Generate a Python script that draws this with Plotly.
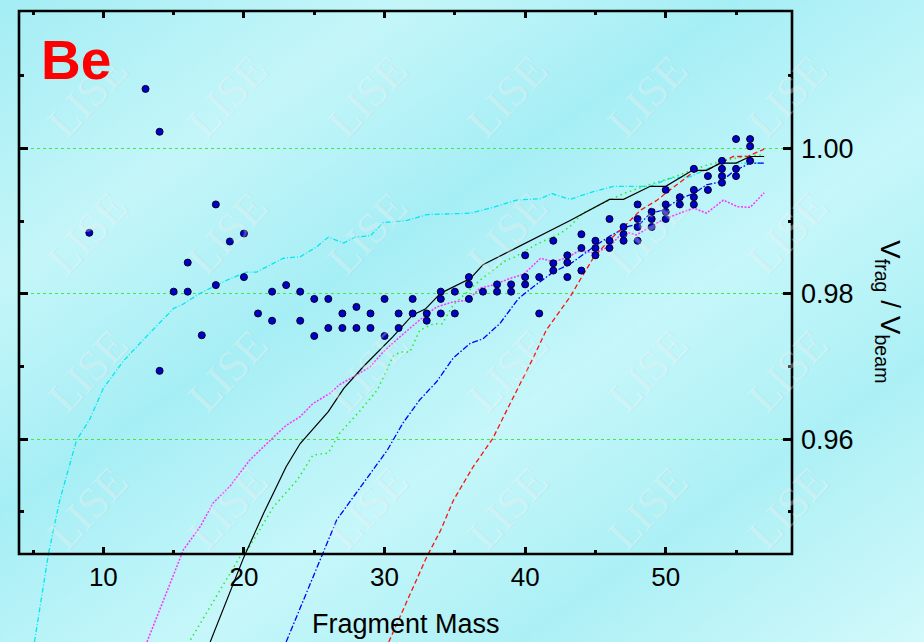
import base64
import plotly.graph_objects as go

# ---------------- data ----------------
exp_mass = [9, 13, 14, 14, 15, 16, 16, 17, 18, 18, 19, 20, 20, 21, 22, 22, 23, 24, 24,
            25, 25, 26, 26, 27, 27, 28, 28, 29, 29, 30, 30, 31, 31, 32, 32, 33, 33,
            34, 34, 34, 35, 35, 36, 36, 36, 37, 38, 38, 39, 39, 40, 40, 40, 41, 41,
            42, 42, 42, 43, 43, 43, 44, 44, 44, 45, 45, 45, 46, 46, 46, 47, 47, 47,
            48, 48, 48, 48, 49, 49, 49, 50, 50, 50, 50, 51, 51, 52, 52, 52, 52,
            53, 53, 54, 54, 54, 54, 55, 55, 55, 56, 56, 56]
exp_ratio = [0.9884, 1.0082, 1.0023, 0.9694, 0.9803, 0.9843, 0.9803, 0.9743, 0.9923, 0.9812,
             0.9872, 0.9883, 0.9823, 0.9773, 0.9803, 0.9763, 0.9812, 0.9803, 0.9763,
             0.9793, 0.9742, 0.9793, 0.9753, 0.9773, 0.9753, 0.9782, 0.9753, 0.9773, 0.9753,
             0.9793, 0.9742, 0.9773, 0.9753, 0.9793, 0.9773, 0.9773, 0.9763,
             0.9803, 0.9793, 0.9773, 0.9803, 0.9773, 0.9823, 0.9813, 0.9793, 0.9803,
             0.9813, 0.9803, 0.9813, 0.9803, 0.9853, 0.9823, 0.9813, 0.9823, 0.9773,
             0.9873, 0.9842, 0.9832, 0.9853, 0.9843, 0.9823, 0.9882, 0.9863, 0.9832,
             0.9873, 0.9863, 0.9853, 0.9903, 0.9873, 0.9863, 0.9892, 0.9882, 0.9873,
             0.9923, 0.9903, 0.9892, 0.9873, 0.9913, 0.9903, 0.9892,
             0.9943, 0.9923, 0.9913, 0.9903, 0.9933, 0.9923, 0.9972, 0.9943, 0.9933, 0.9923,
             0.9962, 0.9943, 0.9983, 0.9972, 0.9962, 0.9953, 1.0013, 0.9972, 0.9962,
             1.0013, 1.0003, 0.9983]

black_m = [17.6, 20.0, 21.4, 23.0, 24.0, 25.1, 26.0, 27.1, 28.5, 30.6, 32.0, 32.9, 34.0,
           36.1, 37.0, 43.2, 46.0, 47.0, 48.9, 50.0, 51.9, 52.9, 53.9, 55.0, 56.0, 57.0]
black_v = [0.9321, 0.9438, 0.9498, 0.9562, 0.9594, 0.9619, 0.9638, 0.9670, 0.9700, 0.9741,
           0.9771, 0.9779, 0.9801, 0.9821, 0.9840, 0.9901, 0.9930, 0.9930, 0.9948, 0.9948,
           0.9970, 0.9970, 0.9980, 0.9980, 0.9989, 0.9989]

cyan_m = [5.1, 6.1, 6.9, 8.1, 9.0, 10.0, 11.4, 12.8, 15.0, 15.6, 16.9, 18.8, 20.2, 20.9,
          22.8, 24.0, 25.2, 26.0, 27.1, 27.9, 29.0, 29.9, 31.6, 33.0, 36.1, 37.7, 39.4,
          41.1, 41.9, 43.2, 44.9, 46.3, 48.9, 50.3, 51.7, 53.9, 55.8, 57.0]
cyan_v = [0.9321, 0.9443, 0.9516, 0.9599, 0.9626, 0.9670, 0.9707, 0.9736, 0.9780, 0.9785,
          0.9801, 0.9819, 0.9830, 0.9830, 0.9849, 0.9851, 0.9865, 0.9878, 0.9870, 0.9878,
          0.9880, 0.9898, 0.9901, 0.9909, 0.9911, 0.9919, 0.9929, 0.9931, 0.9938, 0.9930,
          0.9941, 0.9948, 0.9948, 0.9959, 0.9961, 0.9980, 0.9980, 0.9980]

magenta_m = [13.1, 15.7, 16.9, 17.8, 19.0, 20.4, 21.9, 23.0, 24.0, 24.9, 26.1, 26.8, 27.8,
             29.0, 29.9, 31.1, 32.5, 33.7, 34.9, 35.9, 36.8, 37.7, 38.9, 39.9, 41.1, 42.0,
             43.0, 43.9, 44.9, 46.0, 47.0, 47.9, 48.9, 49.8, 51.0, 52.0, 52.9, 54.1, 55.1,
             56.0, 57.0]
magenta_v = [0.9321, 0.9448, 0.9480, 0.9512, 0.9535, 0.9571, 0.9599, 0.9619, 0.9631, 0.9649,
             0.9663, 0.9675, 0.9686, 0.9700, 0.9720, 0.9741, 0.9764, 0.9782, 0.9789, 0.9791,
             0.9808, 0.9812, 0.9821, 0.9827, 0.9849, 0.9844, 0.9850, 0.9860, 0.9856, 0.9865,
             0.9886, 0.9881, 0.9892, 0.9902, 0.9911, 0.9918, 0.9911, 0.9929, 0.9920, 0.9919,
             0.9939]

green_m = [16.2, 19.8, 20.4, 22.1, 23.8, 24.9, 26.0, 26.8, 28.3, 29.5, 30.6, 31.1, 31.8,
           32.5, 33.5, 34.1, 34.9, 36.8, 38.7, 39.2, 40.8, 42.5, 43.2, 44.1, 46.0, 47.0,
           49.1, 50.3, 52.9, 53.9, 55.8, 57.0]
green_v = [0.9324, 0.9441, 0.9452, 0.9507, 0.9544, 0.9578, 0.9581, 0.9608, 0.9640, 0.9668,
           0.9714, 0.9720, 0.9720, 0.9750, 0.9759, 0.9759, 0.9785, 0.9819, 0.9847, 0.9850,
           0.9868, 0.9883, 0.9893, 0.9911, 0.9929, 0.9938, 0.9952, 0.9959, 0.9977, 0.9982,
           0.9990, 0.9991]

blue_m = [23.0, 25.6, 26.6, 27.8, 29.0, 30.2, 31.3, 32.5, 33.7, 34.9, 36.1, 37.0, 38.2,
          39.5, 40.6, 42.0, 43.2, 44.9, 46.0, 47.2, 48.2, 48.9, 49.8, 51.0, 52.0, 52.9,
          53.9, 54.8, 56.0, 57.0]
blue_v = [0.9321, 0.9441, 0.9489, 0.9521, 0.9553, 0.9585, 0.9622, 0.9654, 0.9679, 0.9712,
          0.9732, 0.9738, 0.9759, 0.9793, 0.9810, 0.9830, 0.9841, 0.9865, 0.9879, 0.9892,
          0.9897, 0.9911, 0.9915, 0.9931, 0.9938, 0.9950, 0.9954, 0.9968, 0.9980, 0.9980]

red_m = [30.3, 33.0, 34.0, 34.9, 36.3, 37.7, 38.7, 39.8, 40.6, 41.5, 43.2, 43.9, 44.9,
         46.0, 47.0, 48.2, 49.4, 50.3, 52.0, 52.9, 54.8, 55.8, 57.0]
red_v = [0.9321, 0.9438, 0.9475, 0.9516, 0.9562, 0.9601, 0.9640, 0.9681, 0.9713, 0.9750,
         0.9796, 0.9819, 0.9851, 0.9874, 0.9892, 0.9915, 0.9929, 0.9943, 0.9968, 0.9970,
         0.9989, 0.9989, 0.9999]

x_major = [10, 20, 30, 40, 50]
x_minor = [5, 15, 25, 35, 45, 55]
y_major = [0.96, 0.98, 1.00]
y_major_text = ["0.96", "0.98", "1.00"]
y_minor = [0.95, 0.97, 0.99, 1.01]

# ---------------- geometry ----------------
W, H = 924, 642
FL, FR, FT, FB = 19, 792, 11, 554          # frame in pixels
xdom = [FL / W, FR / W]
ytop = 1 - FT / H
yframe_bot = 1 - FB / H
X_RANGE = [4.0, 58.98]
Y_RANGE = [0.93209, 1.01892]

FONT = "Arial, 'Liberation Sans', sans-serif"

# background gradient as an svg image
svg = f"""<svg xmlns='http://www.w3.org/2000/svg' width='{W}' height='{H}'>
<defs><linearGradient id='g' x1='0' y1='0' x2='1' y2='1'>
<stop offset='0' stop-color='#a4edf4'/>
<stop offset='0.22' stop-color='#c4f6f9'/>
<stop offset='0.40' stop-color='#a6eef5'/>
<stop offset='0.60' stop-color='#c6f7fa'/>
<stop offset='0.78' stop-color='#acf0f5'/>
<stop offset='1' stop-color='#d2f9fb'/>
</linearGradient></defs>
<rect width='100%' height='100%' fill='url(#g)'/></svg>"""
bg_src = "data:image/svg+xml;base64," + base64.b64encode(svg.encode()).decode()

fig = go.Figure()

line_specs = [
    (cyan_m, cyan_v, "#00e8f0", "5px,2px,1px,2px", 1.3),
    (magenta_m, magenta_v, "#ff33ff", "2px,1.5px", 1.5),
    (green_m, green_v, "#22ee22", "1.5px,3.5px", 1.5),
    (blue_m, blue_v, "#0000ff", "6px,2px,1.5px,2px", 1.3),
    (red_m, red_v, "#ff1010", "5px,3px", 1.3),
    (black_m, black_v, "#000000", "solid", 1.2),
]
for xs, ys, col, dash, w in line_specs:
    fig.add_trace(go.Scatter(x=xs, y=ys, mode="lines",
                             line=dict(color=col, width=w, dash=dash),
                             showlegend=False, hoverinfo="skip"))

fig.add_trace(go.Scatter(x=exp_mass, y=exp_ratio, mode="markers",
                         marker=dict(size=7, color="#0000c8",
                                     line=dict(color="#000022", width=1)),
                         showlegend=False, cliponaxis=False))

# helper traces so the mirrored tick axes render
fig.add_trace(go.Scatter(x=[], y=[], xaxis="x2", yaxis="y", showlegend=False))
fig.add_trace(go.Scatter(x=[], y=[], xaxis="x", yaxis="y2", showlegend=False))

xtickfont = dict(family=FONT, size=26, color="black")
ytickfont = dict(family=FONT, size=27, color="black")

fig.update_layout(
    width=W, height=H,
    margin=dict(l=0, r=0, t=0, b=0),
    paper_bgcolor="#b4f2f7",
    plot_bgcolor="rgba(0,0,0,0)",
    images=[dict(source=bg_src, xref="paper", yref="paper", x=0, y=1,
                 sizex=1, sizey=1, sizing="stretch", layer="below")],
    xaxis=dict(domain=xdom, range=X_RANGE, anchor="free", position=yframe_bot,
               showline=False, showgrid=False, zeroline=False,
               ticks="inside", ticklen=7, tickwidth=2.5, tickcolor="black",
               tickvals=x_major, ticktext=[str(v) for v in x_major],
               tickfont=xtickfont, ticklabelstandoff=5,
               minor=dict(tickvals=x_minor, ticks="inside", ticklen=4,
                          tickwidth=2.5, tickcolor="black", showgrid=False)),
    xaxis2=dict(domain=xdom, range=X_RANGE, overlaying="x", side="top", anchor="y",
                showline=False, showgrid=False, zeroline=False,
                ticks="inside", ticklen=7, tickwidth=2.5, tickcolor="black",
                tickvals=x_major, showticklabels=False,
                minor=dict(tickvals=x_minor, ticks="inside", ticklen=4,
                           tickwidth=2.5, tickcolor="black", showgrid=False)),
    yaxis=dict(domain=[0, ytop], range=Y_RANGE, side="right", anchor="x",
               showline=False, zeroline=False,
               showgrid=True, gridcolor="#44e844", gridwidth=1, griddash="dot",
               ticks="inside", ticklen=9, tickwidth=2.5, tickcolor="black",
               tickvals=y_major, ticktext=y_major_text,
               tickfont=ytickfont, ticklabelstandoff=8,
               minor=dict(tickvals=y_minor, ticks="inside", ticklen=4.5,
                          tickwidth=2.5, tickcolor="black", showgrid=False)),
    yaxis2=dict(domain=[0, ytop], range=Y_RANGE, overlaying="y", side="left", anchor="x",
                showline=False, showgrid=False, zeroline=False,
                ticks="inside", ticklen=9, tickwidth=2.5, tickcolor="black",
                tickvals=y_major, showticklabels=False,
                minor=dict(tickvals=y_minor, ticks="inside", ticklen=4.5,
                           tickwidth=2.5, tickcolor="black", showgrid=False)),
    shapes=[dict(type="rect", xref="paper", yref="paper",
                 x0=xdom[0], x1=xdom[1], y0=yframe_bot, y1=ytop,
                 line=dict(color="black", width=2.6), fillcolor="rgba(0,0,0,0)",
                 layer="above")],
)

annotations = []
# LISE watermark grid (faint, embossed look)
for cx in [88, 228, 368, 508, 648, 788]:
    for cy in [97, 234, 371, 508]:
        annotations.append(dict(
            text="LISE", x=cx / W, y=1 - cy / H, xref="paper", yref="paper",
            showarrow=False, textangle=-47,
            font=dict(family="'Liberation Serif', 'DejaVu Serif', serif", size=44,
                      color="rgba(255,255,255,0.25)",
                      shadow="1px 1px 0px rgba(110,140,140,0.3), "
                             "-1px -1px 0px rgba(255,255,255,0.35)"),
            xanchor="center", yanchor="middle"))

annotations += [
    dict(text="<b>Be</b>", x=76 / W, y=1 - 60 / H, xref="paper", yref="paper",
         showarrow=False, xanchor="center", yanchor="middle",
         font=dict(family=FONT, size=55, color="#ff0000")),
    dict(text="Fragment Mass", x=(FL + FR) / 2 / W, y=1 - 624 / H,
         xref="paper", yref="paper", showarrow=False,
         xanchor="center", yanchor="middle",
         font=dict(family=FONT, size=27, color="black")),
    dict(text="V<sub>frag</sub> / V<sub>beam</sub>", x=889 / W, y=1 - 311 / H,
         xref="paper", yref="paper", showarrow=False, textangle=90,
         xanchor="center", yanchor="middle",
         font=dict(family=FONT, size=28, color="black")),
]
fig.update_layout(annotations=annotations)

fig.write_html("out.html")
